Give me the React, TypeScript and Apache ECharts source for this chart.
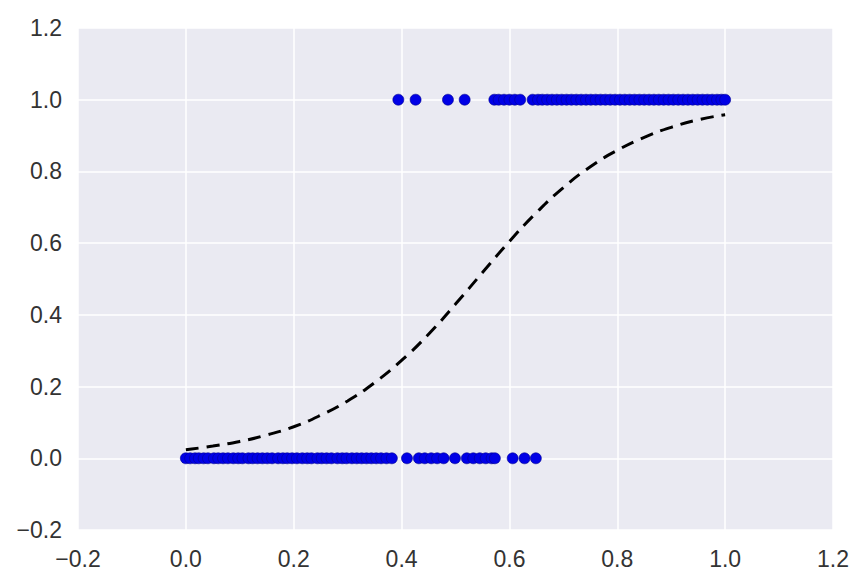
import React, { useEffect, useRef } from "react";
import * as echarts from "echarts";

const zeroClassX: number[] = [
  0.0, 0.008, 0.017, 0.024, 0.033, 0.041, 0.052, 0.06, 0.069, 0.078, 0.088, 0.097, 0.105,
  0.116, 0.124, 0.133, 0.142, 0.151, 0.16, 0.171, 0.18, 0.188, 0.197, 0.206, 0.216, 0.225,
  0.233, 0.244, 0.252, 0.261, 0.27, 0.281, 0.29, 0.298, 0.308, 0.317, 0.326, 0.335, 0.344,
  0.353, 0.362, 0.372, 0.382, 0.41, 0.432, 0.443, 0.455, 0.466, 0.478, 0.499, 0.521, 0.533,
  0.545, 0.556, 0.567, 0.573, 0.606, 0.628, 0.649,
];

const oneClassX: number[] = [
  0.394, 0.426, 0.486, 0.517, 0.572, 0.58, 0.59, 0.6, 0.61, 0.62, 0.643, 0.653, 0.661, 0.67,
  0.679, 0.688, 0.697, 0.706, 0.715, 0.724, 0.733, 0.742, 0.751, 0.76, 0.769, 0.778, 0.787,
  0.796, 0.805, 0.814, 0.823, 0.832, 0.841, 0.85, 0.859, 0.868, 0.877, 0.886, 0.895, 0.904,
  0.913, 0.922, 0.931, 0.94, 0.949, 0.958, 0.967, 0.976, 0.985, 0.993, 1.0,
];

const curveX: number[] = [
  0.0, 0.05, 0.1, 0.15, 0.2, 0.25, 0.3, 0.35, 0.4, 0.45, 0.5, 0.55, 0.6, 0.65, 0.7, 0.75,
  0.8, 0.85, 0.9, 0.95, 1.0,
];
const curveY: number[] = [
  0.024, 0.034, 0.047, 0.065, 0.088, 0.12, 0.16, 0.211, 0.273, 0.346, 0.43, 0.518, 0.605,
  0.685, 0.755, 0.813, 0.859, 0.895, 0.923, 0.944, 0.958,
];

const ticks = { min: -0.2, max: 1.2, interval: 0.2 };

const fmt = (v: number) => {
  const s = Math.abs(v) < 1e-9 ? "0.0" : Math.abs(v).toFixed(1);
  return v < -1e-9 ? "\u2212" + s : s;
};

export default function App() {
  const ref = useRef<HTMLDivElement>(null);
  useEffect(() => {
    if (!ref.current) return;
    const chart = echarts.init(ref.current, undefined, { renderer: "svg" });
    const axisCommon = {
      type: "value" as const,
      min: ticks.min,
      max: ticks.max,
      interval: ticks.interval,
      axisLine: { show: false },
      axisTick: { show: false },
      splitLine: { show: true, lineStyle: { color: "#ffffff", width: 1.5 } },
      axisLabel: {
        formatter: fmt,
        color: "#333333",
        fontSize: 23,
        fontFamily: "Liberation Sans, Arial, sans-serif",
      },
    };
    const dotStyle = {
      color: "#0000e6",
      borderColor: "#000090",
      borderWidth: 0.6,
      opacity: 1,
    };
    chart.setOption({
      animation: false,
      backgroundColor: "#ffffff",
      grid: {
        left: 78,
        top: 28,
        right: 31,
        bottom: 55,
        show: true,
        backgroundColor: "#EAEAF2",
        borderWidth: 0,
      },
      xAxis: { ...axisCommon, axisLabel: { ...axisCommon.axisLabel, margin: 17 } },
      yAxis: { ...axisCommon, axisLabel: { ...axisCommon.axisLabel, margin: 16 } },
      series: [
        {
          type: "line",
          data: curveX.map((x, i) => [x, curveY[i]]),
          showSymbol: false,
          symbol: "none",
          smooth: true,
          lineStyle: { color: "#000000", width: 3, type: [13, 8] },
          z: 2,
        },
        {
          type: "scatter",
          data: zeroClassX.map((x) => [x, 0]),
          symbolSize: 11,
          itemStyle: dotStyle,
          z: 3,
        },
        {
          type: "scatter",
          data: oneClassX.map((x) => [x, 1]),
          symbolSize: 11,
          itemStyle: dotStyle,
          z: 3,
        },
      ],
    });
    return () => chart.dispose();
  }, []);
  return (
    <div
      ref={ref}
      style={{ position: "absolute", left: 0, top: 0, width: 864, height: 585 }}
    />
  );
}
